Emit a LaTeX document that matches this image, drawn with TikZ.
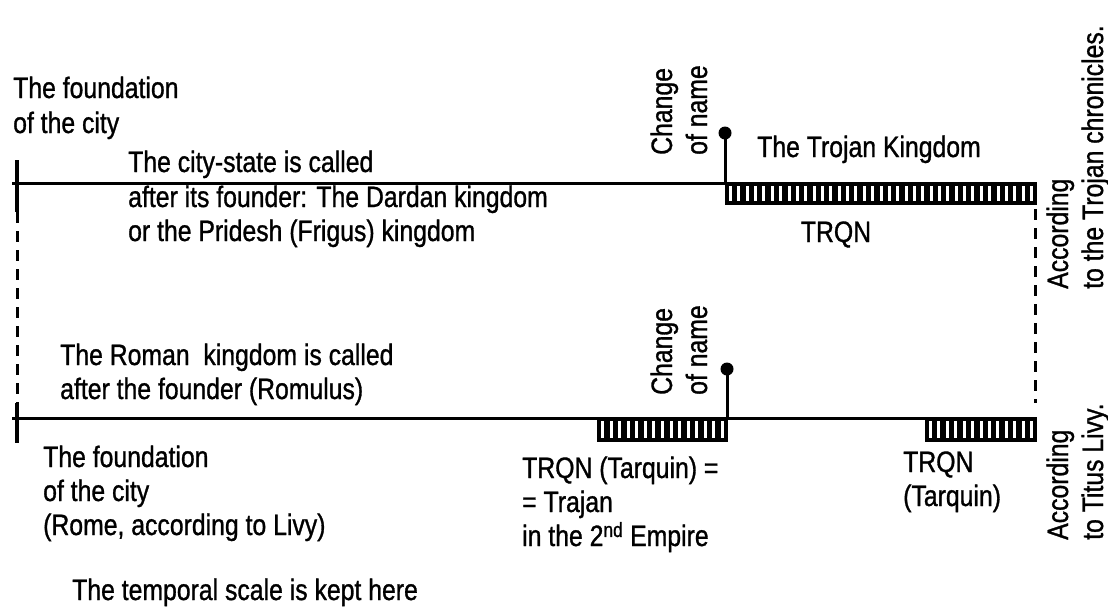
\documentclass[tikz,border=0pt]{standalone}
\usepackage{fontspec}
\setmainfont{Liberation Sans}[FakeStretch=0.84,FakeBold=1.0]
\newcommand\hatchbar[5]{%
  \fill (#1,#3) rectangle (#2,#4);
  \pgfmathsetmacro\hbp{(#2-#1-11)/(#5-1)}
  \foreach \i in {1,...,#5}{\fill[white] ({#1+4+(\i-1)*\hbp},#3+4) rectangle +(3,{#4-#3-8});}
}
\begin{document}
\begin{tikzpicture}[x=1pt,y=-1pt,
  txt/.style={font=\fontsize{29.5}{35}\selectfont, inner sep=0pt, anchor=base west},
  rtxt/.style={txt, rotate=90},
  axis/.style={line width=3pt},
  tickln/.style={line width=4pt},
  dashln/.style={line width=3pt, dash pattern=on 11pt off 8pt},
  stemln/.style={line width=3pt},
  dotc/.style={circle, fill=black, inner sep=0pt, minimum size=13pt}]
\useasboundingbox (0,0) rectangle (1108,606);

% ---- upper timeline (Trojan chronicles)
\coordinate (tl) at (12,183);
\coordinate (tr) at (1037,183);
\coordinate (tstem) at (725,183);
\coordinate (ttick1) at (17,160);
\coordinate (ttick2) at (17,212);
\coordinate (rdash1) at (1035,209);
\coordinate (rdash2) at (1035,403);
\draw[axis] (tl) -- (tr);
\hatchbar{725}{1037}{182}{205}{37}
\node[dotc] (tdot) at (725,133) {};
\draw[stemln] (tstem) -- (tdot.center);
\draw[tickln] (ttick1) -- (ttick2);
\draw[dashln] (rdash1) -- (rdash2);

% ---- lower timeline (Livy)
\coordinate (bl) at (12,418);
\coordinate (br) at (1037,418);
\coordinate (bstem) at (727,418);
\coordinate (btick1) at (17,403);
\coordinate (btick2) at (17,443);
\draw[axis] (bl) -- (br);
\hatchbar{597}{728}{417}{442}{15}
\hatchbar{925}{1037}{417}{442}{13}
\node[dotc] (bdot) at (727,369) {};
\draw[stemln] (bstem) -- (bdot.center);
\draw[tickln] (btick1) -- (btick2);
\draw[dashln] (ttick2) -- (btick1);

% ---- texts, upper
\node[txt] (f1a) at (13,98) {The foundation};
\node[txt] (f1b) at (13,133) {of the city};
\node[txt] (cs1) at (128,172) {The city-state is called};
\node[txt] (cs2) at (128,207) {after its founder: The Dardan kingdom};
\node[txt] (cs3) at (128,241) {or the Pridesh (Frigus) kingdom};
\node[rtxt] (ch1a) at (672,155) {Change};
\node[rtxt] (ch1b) at (707,155) {of name};
\node[txt] (tk) at (757,157) {The Trojan Kingdom};
\node[txt, anchor=base] (trqn1) at (836,242) {TRQN};
\node[rtxt] (ac1a) at (1068,289) {According};
\node[rtxt] (ac1b) at (1103,289) {to the Trojan chronicles.};

% ---- texts, lower
\node[txt] (rk1) at (60,365) {The Roman\ \ kingdom is called};
\node[txt] (rk2) at (60,399) {after the founder (Romulus)};
\node[rtxt] (ch2a) at (672,395) {Change};
\node[rtxt] (ch2b) at (707,395) {of name};
\node[txt] (f2a) at (43,467) {The foundation};
\node[txt] (f2b) at (43,501) {of the city};
\node[txt] (f2c) at (43,535) {(Rome, according to Livy)};
\node[txt] (tq1) at (522,478) {TRQN (Tarquin) =};
\node[txt] (tq2) at (522,512) {= Trajan};
\node[txt] (tq3) at (522,546) {in the 2\textsuperscript{nd} Empire};
\node[txt] (tq4) at (903,472) {TRQN};
\node[txt] (tq5) at (903,506) {(Tarquin)};
\node[rtxt] (ac2a) at (1068,540) {According};
\node[rtxt] (ac2b) at (1103,540) {to Titus Livy.};
\node[txt] (ts) at (72,600) {The temporal scale is kept here};
\end{tikzpicture}
\end{document}
